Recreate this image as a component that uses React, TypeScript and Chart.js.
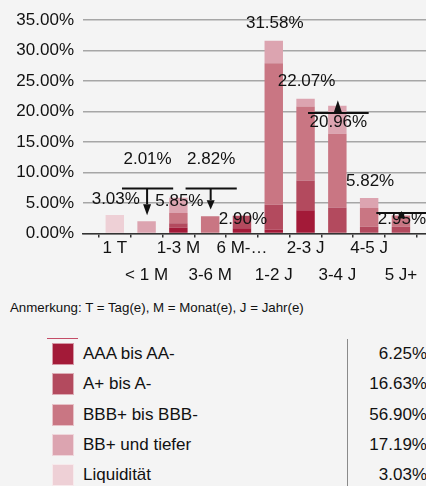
import React, { useEffect, useRef } from 'react';
import { Chart, registerables } from 'chart.js';

Chart.register(...registerables);

// ---- data ----
const categories = ['1 T', '< 1 M', '1-3 M', '3-6 M', '6 M-…', '1-2 J', '2-3 J', '3-4 J', '4-5 J', '5 J+'];
const seriesNames = ['AAA bis AA-', 'A+ bis A-', 'BBB+ bis BBB-', 'BB+ und tiefer', 'Liquidität'];
const aaa = [0, 0, 0.95, 0, 0.85, 0.65, 3.8, 0, 0, 0];
const aPlus = [0, 0, 0.75, 0, 2.05, 4.05, 4.9, 4.26, 1.12, 1.1];
const bbb = [0, 0, 1.65, 2.82, 0, 23.2, 12.1, 12.1, 3.05, 1.85];
const bbPlus = [0, 2.01, 2.5, 0, 0, 3.68, 1.27, 4.6, 1.65, 0];
const liquiditaet = [3.03, 0, 0, 0, 0, 0, 0, 0, 0, 0];
const totals = [3.03, 2.01, 5.85, 2.82, 2.9, 31.58, 22.07, 20.96, 5.82, 2.95];
const legendShares = [6.25, 16.63, 56.9, 17.19, 3.03];
const yTicks = [0, 5, 10, 15, 20, 25, 30, 35];
// arrow markers (values on the % axis)
const arrowCats = [1, 3, 7, 9];
const arrowLine = [7.38, 7.38, 19.77, 3.38];
const arrowBase = [4.8, 5.46, 19.89, 2.51];
const arrowTip = [3.0, 3.93, 21.85, 3.7];

// ---- styles ----
const colors = ['#a31a38', '#b34a5e', '#c97683', '#dca4b0', '#eed0d6'];
const FONT = '"Liberation Sans", Arial, sans-serif';
const labelOffsets = [-16, -62, 3, -57, 3.5, -17.5, -17.5, 16.5, -17, 3.5];

const seriesValues = [aaa, aPlus, bbb, bbPlus, liquiditaet];

const overlayPlugin = {
  id: 'overlay',
  afterDatasetsDraw(chart: any) {
    const { ctx } = chart;
    const x = chart.scales.x;
    const y = chart.scales.y;
    ctx.save();
    ctx.font = `17px ${FONT}`;
    ctx.fillStyle = '#111';
    ctx.textAlign = 'center';
    ctx.textBaseline = 'middle';
    categories.forEach((_, i) => {
      const top = seriesValues.reduce((s, arr) => s + arr[i], 0);
      const cx = x.getPixelForValue(i) + 1;
      const cy = y.getPixelForValue(top) + labelOffsets[i];
      ctx.fillText(totals[i].toFixed(2) + '%', cx, cy);
    });
    ctx.strokeStyle = '#111';
    ctx.lineWidth = 2;
    arrowCats.forEach((ci, k) => {
      const cx = x.getPixelForValue(ci) + 1;
      const w = ctx.measureText(totals[ci].toFixed(2) + '%').width + 3;
      const ly = y.getPixelForValue(arrowLine[k]);
      const by = y.getPixelForValue(arrowBase[k]);
      const ty = y.getPixelForValue(arrowTip[k]);
      ctx.beginPath();
      ctx.moveTo(cx - w / 2, ly);
      ctx.lineTo(cx + w / 2, ly);
      ctx.stroke();
      ctx.beginPath();
      ctx.moveTo(cx - 0.5, ly);
      ctx.lineTo(cx - 0.5, by);
      ctx.stroke();
      ctx.beginPath();
      ctx.moveTo(cx - 4.5, by);
      ctx.lineTo(cx + 3.5, by);
      ctx.lineTo(cx - 0.5, ty);
      ctx.closePath();
      ctx.fill();
    });
    ctx.restore();
  },
};

export default function App() {
  const ref = useRef<HTMLCanvasElement>(null);

  useEffect(() => {
    if (!ref.current) return;
    const chart = new Chart(ref.current, {
      type: 'bar',
      data: {
        datasets: seriesValues.map((vals, si) => ({
          label: seriesNames[si],
          data: vals.map((v, i) => ({ x: i, y: v })),
          backgroundColor: colors[si],
          borderWidth: 0,
          stack: 's',
          barPercentage: 0.58,
          categoryPercentage: 1,
        })),
      },
      options: {
        animation: false,
        responsive: false,
        maintainAspectRatio: false,
        layout: { padding: { top: 20, left: 0, right: 0, bottom: 0 } },
        plugins: { legend: { display: false }, tooltip: { enabled: false } },
        scales: {
          x: {
            type: 'linear',
            min: -1,
            max: 9.82,
            offset: false,
            afterBuildTicks: (s: any) => {
              s.ticks = categories.map((_, i) => ({ value: i }));
            },
            afterFit: (s: any) => {
              s.height = 56.5;
            },
            ticks: {
              autoSkip: false,
              maxRotation: 0,
              minRotation: 0,
              padding: 4,
              color: '#111',
              font: { family: FONT, size: 17, lineHeight: 0.8 },
              callback: (v: any) => {
                const i = Math.round(Number(v));
                return i % 2 === 0 ? categories[i] : ['', '', categories[i]];
              },
            },
            grid: {
              display: true,
              drawOnChartArea: false,
              drawTicks: true,
              tickLength: 4,
              tickColor: '#333',
              lineWidth: 1.5,
            },
            border: { display: true, color: '#333', width: 1.5 },
          },
          y: {
            stacked: true,
            min: 0,
            max: 35,
            afterBuildTicks: (s: any) => {
              s.ticks = yTicks.map((v) => ({ value: v }));
            },
            afterFit: (s: any) => {
              s.width = 83;
            },
            ticks: {
              padding: 9,
              color: '#111',
              font: { family: FONT, size: 17 },
              callback: (v: any) => Number(v).toFixed(2) + '%',
            },
            grid: { color: '#a6a6a6', lineWidth: 1.6, drawTicks: false },
            border: { display: false },
          },
        },
      } as any,
      plugins: [overlayPlugin],
    });
    return () => chart.destroy();
  }, []);

  return (
    <div
      style={{
        position: 'fixed',
        left: 0,
        top: 0,
        width: 426,
        height: 486,
        overflow: 'hidden',
        background: '#f4f4f4',
        fontFamily: FONT,
        color: '#111',
      }}
    >
      <canvas ref={ref} width={427} height={290} style={{ position: 'absolute', left: 0, top: 0, display: 'block' }} />
      <div style={{ position: 'absolute', left: 10, top: 299, height: 17, lineHeight: '17px', fontSize: 13.3, whiteSpace: 'nowrap' }}>
        Anmerkung: T = Tag(e), M = Monat(e), J = Jahr(e)
      </div>
      <div style={{ position: 'absolute', left: 47, top: 338, width: 31, height: 1, background: '#c44d67' }} />
      <div style={{ position: 'absolute', left: 347, top: 339, width: 1, height: 147, background: '#8a8a8a' }} />
      {seriesNames.map((name, i) => {
        const top = 343 + i * 30.3;
        return (
          <React.Fragment key={name}>
            <div
              style={{
                position: 'absolute',
                left: 52,
                top,
                width: 22,
                height: 22,
                boxSizing: 'border-box',
                background: colors[i],
                border: '1px solid rgba(255,255,255,0.55)',
              }}
            />
            <div style={{ position: 'absolute', left: 83, top: top - 1, height: 24, lineHeight: '24px', fontSize: 17, whiteSpace: 'nowrap' }}>
              {name}
            </div>
            <div
              style={{
                position: 'absolute',
                left: 347,
                width: 80,
                top: top - 1,
                height: 24,
                lineHeight: '24px',
                fontSize: 17,
                textAlign: 'right',
                whiteSpace: 'nowrap',
              }}
            >
              {legendShares[i].toFixed(2) + '%'}
            </div>
          </React.Fragment>
        );
      })}
    </div>
  );
}
